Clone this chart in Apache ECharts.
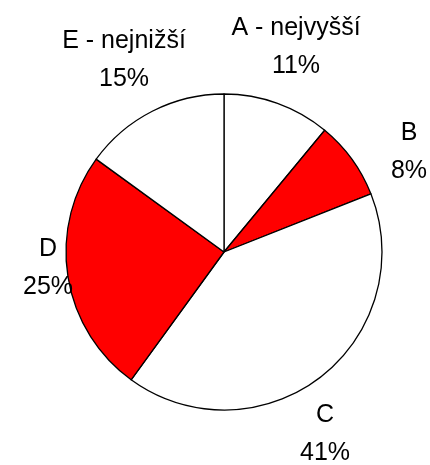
<!DOCTYPE html>
<html lang="cs">

<head>
    <meta charset="UTF-8">
    <title>Graf</title>
    <script src="https://cdn.jsdelivr.net/npm/echarts@6/dist/echarts.min.js"></script>
    <style>
        html,
        body {
            margin: 0;
            padding: 0;
            background: #fff;
        }

        #chart {
            width: 430px;
            height: 465px;
        }
    </style>
</head>

<body>
    <div id="chart"></div>
    <script type="text/javascript">
        // data
        var names = ['A - nejvyšší', 'B', 'C', 'D', 'E - nejnižší'];
        var shares = [11, 8, 41, 25, 15];
        var colors = ['#ffffff', '#ff0000', '#ffffff', '#ff0000', '#ffffff'];

        // layout of the pie and of its labels (offset of label centre from pie centre)
        var cx = 224, cy = 252, r = 158;
        var labelOffset = [[72, -205], [185, -100], [101, 182], [-176, 16], [-100, -192]];

        var myChart = echarts.init(document.getElementById('chart'));

        var items = [];
        for (var i = 0; i < names.length; i++) {
            items.push({
                name: names[i],
                value: shares[i],
                itemStyle: { color: colors[i] }
            });
        }

        var option = {
            animation: false,
            series: [{
                type: 'pie',
                center: [cx, cy],
                radius: r,
                startAngle: 90,
                clockwise: true,
                avoidLabelOverlap: false,
                itemStyle: {
                    borderColor: '#000',
                    borderWidth: 1.3
                },
                label: {
                    show: true,
                    position: 'outside',
                    formatter: function (p) {
                        return p.name + '\n' + p.value + '%';
                    },
                    fontFamily: 'Liberation Sans, Arial, sans-serif',
                    fontSize: 25,
                    lineHeight: 38,
                    color: '#000',
                    align: 'center'
                },
                labelLine: { show: false },
                labelLayout: function (params) {
                    var o = labelOffset[params.dataIndex];
                    return {
                        x: cx + o[0],
                        y: cy + o[1],
                        align: 'center',
                        verticalAlign: 'middle'
                    };
                },
                emphasis: { disabled: true },
                data: items
            }]
        };

        myChart.setOption(option);
    </script>
</body>

</html>
